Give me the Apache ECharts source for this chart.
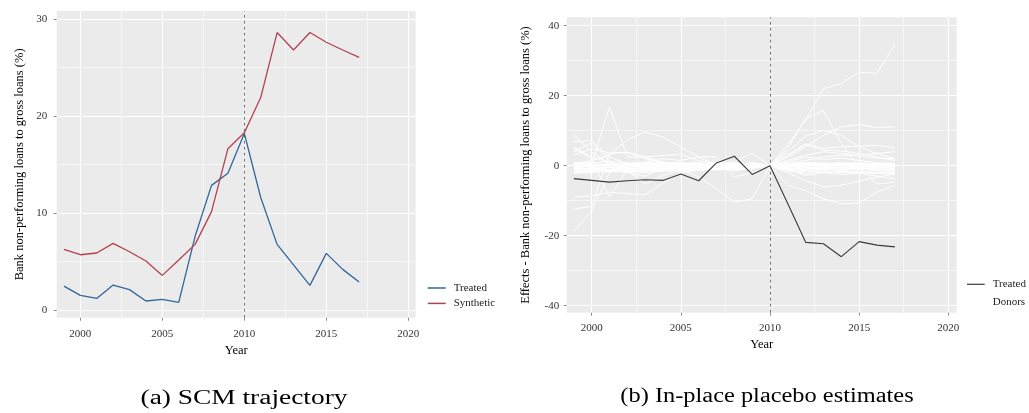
<!DOCTYPE html>
<html>
<head>
<meta charset="utf-8">
<script src="https://cdn.jsdelivr.net/npm/echarts@6/dist/echarts.min.js"></script>
<style>
  html, body { margin: 0; padding: 0; background: #ffffff; }
  #chart { width: 1029px; height: 413px; }
</style>
</head>
<body>
<div id="chart"></div>
<script>
// Years observed
const years = [1999, 2000, 2001, 2002, 2003, 2004, 2005, 2006, 2007, 2008,
               2009, 2010, 2011, 2012, 2013, 2014, 2015, 2016, 2017];
const treatmentYear = 2010;

// Tick labels
const yearTicks = [2000, 2005, 2010, 2015, 2020];
const nplTicks = [0, 10, 20, 30];
const effectTicks = [-40, -20, 0, 20, 40];

// Panel (a): NPL ratio, treated unit vs synthetic control (%)
const treatedNpl   = [2.47, 1.51, 1.2, 2.58, 2.1, 0.93, 1.1, 0.79, 7.6, 12.85,
                      14.1, 18.2, 11.6, 6.77, 4.65, 2.54, 5.84, 4.19, 2.89];
const syntheticNpl = [6.25, 5.7, 5.88, 6.87, 6.01, 5.05, 3.57, 5.15, 6.77, 10.14,
                      16.63, 18.28, 21.9, 28.6, 26.8, 28.6, 27.6, 26.8, 26.05];

// Panel (b): estimated effect for the treated unit (%)
const treatedEffect = [-3.7, -4.2, -4.7, -4.3, -4.0, -4.2, -2.4, -4.3, 0.8, 2.7,
                       -2.5, 0, -10.9, -21.9, -22.3, -26.0, -21.7, -22.7, -23.2];

// Panel (b): in-place placebo effects for each donor (%)
const donorA = [-1.0, 0.5, 16.8, 2.5, 2.5, 1.0, 0.6, 0.2, -0.3, 0.4, 0.2, 0, 6.0, 13.0, 22.0, 23.5, 26.7, 26.4, 34.7];
const donorB = [-18.7, -12.9, -2.0, 0.5, 1.0, 0.5, 0.3, -0.5, 0.2, -0.6, 0.3, 0, 5.0, 13.5, 15.7, 6.3, -0.4, -5.2, -4.7];
const donorC = [-12.4, -11.6, 3.5, 3.8, 2.0, 0.8, 0.5, 0.0, -0.5, 0.3, -0.2, 0, 2.5, 5.4, 8.7, 11.1, 11.8, 10.9, 11.1];
const donorD = [-9.0, -8.6, -7.5, -8.0, -8.3, -5.0, -2.0, -1.0, 0.5, -0.5, 0.5, 0, -5.6, -7.1, -9.5, -10.9, -10.6, -7.6, -5.6];
const donorE = [0.5, 1.5, 3.0, 7.4, 9.6, 8.2, 5.3, 2.5, 0.2, -1.5, -0.5, 0, 4.0, 8.5, 10.1, 8.7, 5.4, 3.5, 2.0];
const donorF = [5.0, 2.0, -9.0, -1.0, -2.0, -1.5, -0.5, 0.5, 0.0, 0.5, -0.5, 0, -2.0, -4.2, -6.1, -5.6, -4.4, -3.3, -2.3];
const donorG = [8.7, 4.0, 0.5, -1.0, -1.5, -1.0, 0.0, 0.5, 1.0, 0.0, 0.5, 0, 3.0, 6.3, 5.0, 5.4, 5.6, 5.8, 5.1];
const donorH = [6.8, 7.2, 2.5, 0.5, -0.5, 0.5, 1.0, 0.0, -0.5, 0.5, 0.0, 0, 3.0, 6.0, 4.5, 4.2, 3.5, 2.5, 1.5];
const donorI = [-0.5, -1.0, -0.5, -1.3, -5.2, -2.8, -1.0, -3.2, -6.6, -10.4, -9.4, 0, -1.0, -2.8, -2.0, -2.5, -2.1, -3.0, -3.7];
const donorJ = [3.0, 4.9, 3.6, 3.9, 2.5, 2.9, 3.2, 1.5, 0.5, 1.0, 3.6, 0, 1.5, 3.0, 4.0, 3.5, 2.8, 2.2, 2.0];
const donorK = [5.3, 2.5, 1.0, 0.0, 1.0, 2.0, 1.5, 2.5, 2.5, -3.2, -2.0, 0, 1.0, 2.5, 1.8, 2.2, 1.5, 0.8, -0.5];
const donorL = [4.0, 6.5, 1.5, -2.0, -3.0, -0.5, 0.5, 1.0, 0.0, 0.0, 1.0, 0, 0.5, 1.5, 2.5, 3.0, 3.0, 3.5, 4.0];
const donorM = [0.8, 0.5, 0.3, 0.6, 0.2, 0.4, 0.7, 0.3, 0.1, 0.5, 0.2, 0, 0.4, 0.7, 0.5, 0.9, 0.6, 0.8, 0.7];
const donorN = [-0.4, -0.2, -0.6, -0.3, -0.5, -0.1, -0.4, -0.2, -0.5, -0.3, -0.1, 0, -0.3, -0.5, -0.4, -0.6, -0.3, -0.5, -0.6];
const donorO = [-1.5, -1.2, -1.0, -1.4, -1.1, -0.8, -1.0, -0.6, -0.9, -0.5, -0.3, 0, -0.6, -0.9, -1.1, -1.3, -1.0, -1.4, -1.6];
const donorP = [0.2, -0.1, 0.4, 0.1, 0.5, 0.2, 0.0, 0.3, 0.6, 0.2, 0.1, 0, 0.2, 0.0, 0.3, 0.1, 0.4, 0.2, 0.0];
const donorQ = [-1.0, -0.7, -1.2, -0.8, -0.6, -0.9, -0.5, -0.7, -0.3, -0.6, -0.4, 0, -0.8, -1.0, -0.7, -0.9, -1.2, -0.8, -1.1];
const donorR = [1.0, 0.8, 1.2, 0.9, 0.6, 1.0, 0.8, 0.5, 0.9, 0.4, 0.3, 0, 0.6, 0.9, 0.7, 0.5, 0.8, 0.6, 0.4];
const donorS = [-2.0, -1.6, -1.8, -1.3, -1.5, -1.1, -1.4, -0.9, -1.2, -0.8, -0.5, 0, -1.0, -1.5, -1.8, -1.6, -2.0, -1.8, -2.2];
const donorT = [-0.2, 0.3, -0.1, 0.2, -0.3, 0.0, 0.3, -0.2, 0.2, -0.1, 0.1, 0, 0.1, 0.3, -0.1, 0.2, 0.0, -0.2, 0.1];
const donorU = [0.5, 0.1, 0.6, 0.3, 0.8, 0.5, 0.2, 0.6, 0.3, 0.7, 0.4, 0, 0.5, 0.3, 0.8, 0.4, 0.2, 0.5, 0.3];
const donorV = [-0.8, -1.1, -0.5, -1.0, -0.7, -0.4, -0.8, -0.5, -0.7, -0.2, -0.5, 0, -0.4, -0.2, -0.6, -0.3, -0.7, -1.0, -0.8];
const donorW = [-1.8, -1.4, -1.6, -1.9, -1.2, -1.5, -1.0, -1.3, -0.8, -1.0, -0.6, 0, -1.3, -1.7, -1.4, -2.0, -1.6, -2.1, -1.9];
const donorX = [0.3, 0.6, 0.0, 0.4, 0.1, 0.7, 0.4, 0.1, 0.5, 0.2, 0.6, 0, 0.3, 0.6, 0.2, 0.5, 0.7, 0.3, 0.6];
const donorY = [-0.6, -0.9, -0.3, -0.7, -0.9, -0.6, -0.2, -0.8, -0.4, -0.9, -0.2, 0, -0.2, -0.6, -0.9, -0.5, -0.8, -0.4, -0.3];
const donorZ = [-1.2, -0.5, -1.4, -0.6, -1.0, -1.3, -0.7, -1.1, -0.6, -1.2, -0.7, 0, -0.7, -1.2, -0.8, -1.1, -0.5, -1.3, -1.4];
const donorAA = [0.0, -0.4, 0.2, -0.5, 0.1, -0.3, 0.2, -0.4, 0.0, 0.3, -0.2, 0, -0.1, 0.2, -0.3, 0.0, -0.4, 0.1, -0.2];
const donorAB = [-2.2, -1.9, -1.3, -1.7, -2.0, -1.4, -1.7, -1.4, -1.0, -1.3, -0.8, 0, -1.5, -2.2, -1.9, -1.5, -1.8, -2.3, -2.4];

const donorEffects = [donorA, donorB, donorC, donorD, donorE, donorF, donorG, donorH,
                      donorI, donorJ, donorK, donorL, donorM, donorN, donorO, donorP,
                      donorQ, donorR, donorS, donorT, donorU, donorV, donorW, donorX,
                      donorY, donorZ, donorAA, donorAB];

const FONT = '"Liberation Serif", "DejaVu Serif", serif';
const COLORS = { treated: '#33669a', synthetic: '#b2424f', effect: '#3a3a3a', donor: '#ffffff' };

const pairs = vals => years.map((y, i) => [y, vals[i]]);

function valueAxis(opts) {
  return Object.assign({
    type: 'value',
    scale: true,
    axisLine: { show: false, onZero: false },
    axisTick: { show: true, length: 3, customValues: opts.ticks, lineStyle: { color: '#8a8a8a', width: 1 } },
    axisLabel: { customValues: opts.ticks, color: '#333', fontFamily: FONT, fontSize: 11, margin: opts.labelMargin,
                 formatter: v => String(v) },
    splitLine: { show: true, lineStyle: { color: '#ffffff', width: 1.1 } },
    minorTick: { show: false, splitNumber: 2 },
    minorSplitLine: { show: true, lineStyle: { color: '#ffffff', width: 0.55 } },
    nameLocation: 'middle',
    nameTextStyle: { color: '#000', fontFamily: FONT, fontSize: 12.5 }
  }, opts.extra);
}

const vline = {
  silent: true,
  symbol: ['none', 'none'],
  label: { show: false },
  lineStyle: { type: [3, 3], color: '#555', width: 0.8 },
  data: [{ xAxis: treatmentYear }]
};

const donorSeries = donorEffects.map(vals => ({
  type: 'line', name: 'Donors', xAxisIndex: 1, yAxisIndex: 1,
  data: pairs(vals), symbol: 'none', silent: true, z: 2,
  lineStyle: { color: COLORS.donor, width: 1.0 }, itemStyle: { color: COLORS.donor }
}));

const option = {
  animation: false,
  backgroundColor: '#ffffff',
  grid: [
    { left: 56.7, top: 11, width: 359, height: 306.7, show: true, backgroundColor: '#ebebeb', borderWidth: 0 },
    { left: 566.7, top: 17.3, width: 390, height: 295.4, show: true, backgroundColor: '#ebebeb', borderWidth: 0 }
  ],
  xAxis: [
    valueAxis({ ticks: yearTicks, labelMargin: 11, extra: { gridIndex: 0, min: 1998.56, max: 2020.45, splitNumber: 5, name: 'Year', nameGap: 25 } }),
    valueAxis({ ticks: yearTicks, labelMargin: 9.5, extra: { gridIndex: 1, min: 1998.6, max: 2020.47, splitNumber: 5, name: 'Year', nameGap: 25 } })
  ],
  yAxis: [
    valueAxis({ ticks: nplTicks, labelMargin: 9.5, extra: { gridIndex: 0, min: -0.79, max: 30.82, splitNumber: 3,
      name: 'Bank non-performing loans to gross loans (%)', nameGap: 30 } }),
    valueAxis({ ticks: effectTicks, labelMargin: 7.5, extra: { gridIndex: 1, min: -42.0, max: 42.4, splitNumber: 4,
      name: 'Effects - Bank non-performing loans to gross loans (%)', nameGap: 34 } })
  ],
  legend: [
    {
      left: 427.7, top: 282.5, orient: 'vertical', padding: 0, itemGap: 4.4,
      itemWidth: 18, itemHeight: 1.5, icon: 'rect',
      textStyle: { color: '#222', fontFamily: FONT, fontSize: 11, padding: [0, 0, 0, 3] },
      data: [
        { name: 'Treated', itemStyle: { color: COLORS.treated } },
        { name: 'Synthetic', itemStyle: { color: COLORS.synthetic } }
      ]
    },
    {
      left: 967, top: 278.8, orient: 'vertical', padding: 0, itemGap: 6.4,
      itemWidth: 17.7, itemHeight: 1.2, icon: 'rect',
      textStyle: { color: '#222', fontFamily: FONT, fontSize: 11, padding: [0, 0, 0, 3] },
      data: [
        { name: 'Treated', itemStyle: { color: COLORS.effect } },
        { name: 'Donors', itemStyle: { color: COLORS.donor } }
      ]
    }
  ],
  series: [
    {
      type: 'line', name: 'Treated', xAxisIndex: 0, yAxisIndex: 0, data: pairs(treatedNpl),
      symbol: 'none', z: 3, lineStyle: { color: COLORS.treated, width: 1.3 }, itemStyle: { color: COLORS.treated }
    },
    {
      type: 'line', name: 'Synthetic', xAxisIndex: 0, yAxisIndex: 0, data: pairs(syntheticNpl),
      symbol: 'none', z: 3, lineStyle: { color: COLORS.synthetic, width: 1.3 }, itemStyle: { color: COLORS.synthetic },
      markLine: vline
    },
    ...donorSeries,
    {
      type: 'line', name: 'Treated', xAxisIndex: 1, yAxisIndex: 1, data: pairs(treatedEffect),
      symbol: 'none', z: 4, lineStyle: { color: COLORS.effect, width: 1.1 }, itemStyle: { color: COLORS.effect },
      markLine: vline
    }
  ],
  graphic: [
    {
      type: 'text', x: 244, y: 399, scaleX: 1.37, silent: true,
      style: { text: '(a) SCM trajectory', fill: '#000', font: '20px ' + FONT, align: 'center', verticalAlign: 'middle' }
    },
    {
      type: 'text', x: 767, y: 397, scaleX: 1.22, silent: true,
      style: { text: '(b) In-place placebo estimates', fill: '#000', font: '20px ' + FONT, align: 'center', verticalAlign: 'middle' }
    }
  ]
};

const chart = echarts.init(document.getElementById('chart'), null, { renderer: 'canvas' });
chart.setOption(option);
</script>
</body>
</html>
